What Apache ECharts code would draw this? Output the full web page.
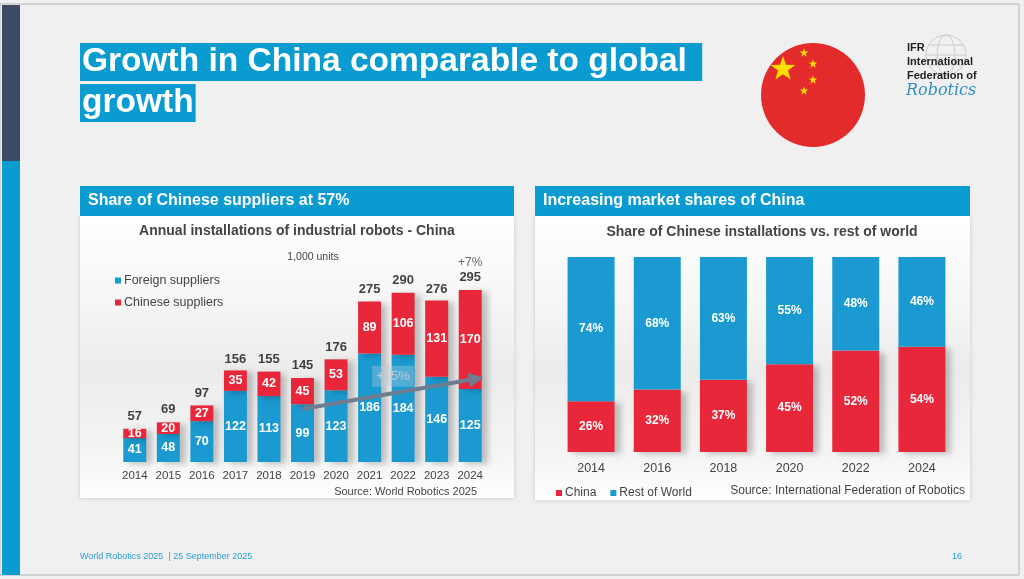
<!DOCTYPE html>
<html>
<head>
<meta charset="utf-8">
<script src="https://cdn.jsdelivr.net/npm/echarts@6/dist/echarts.min.js"></script>
<style>
  html, body { margin: 0; padding: 0; background: #f0f0f0; }
  #main { width: 1024px; height: 579px; }
</style>
</head>
<body>
<div id="main"></div>
<script>
// left chart: annual installations, 1,000 units
var years = ['2014', '2015', '2016', '2017', '2018', '2019', '2020', '2021', '2022', '2023', '2024'];
var foreign = [41, 48, 70, 122, 113, 99, 123, 186, 184, 146, 125];
var chinese = [16, 20, 27, 35, 42, 45, 53, 89, 106, 131, 170];
var totals = [57, 69, 97, 156, 155, 145, 176, 275, 290, 276, 295];
// trend arrow from 2019 to 2024 (value level, 1,000 units)
var trendFrom = ['2019', 91];
var trendTo = ['2024', 145];

// right chart: share of installations (%)
var shareYears = ['2014', '2016', '2018', '2020', '2022', '2024'];
var chinaShare = [26, 32, 37, 45, 52, 54];
var restShare = [74, 68, 63, 55, 48, 46];

var BLUE = '#1a9ad0';
var RED = '#e8283a';
var HEAD = '#0a9bd0';
var TXT = '#444';
var FONT = 'Liberation Sans, Arial, sans-serif';

function star(cx, cy, r) {
    var pts = [];
    for (var i = 0; i < 10; i++) {
        var a = -Math.PI / 2 + i * Math.PI / 5;
        var rr = i % 2 ? r * 0.4 : r;
        pts.push([cx + rr * Math.cos(a), cy + rr * Math.sin(a)]);
    }
    return pts;
}

// soft grey panel background like the original slide
function panelFill() {
    return new echarts.graphic.LinearGradient(0, 0, 0, 1, [
        { offset: 0, color: '#ffffff' },
        { offset: 0.3, color: '#f6f6f6' },
        { offset: 0.55, color: '#ececec' },
        { offset: 0.85, color: '#f5f5f5' },
        { offset: 1, color: '#ffffff' }
    ]);
}

var myChart = echarts.init(document.getElementById('main'));

var decor = [
    // slide frame
    { type: 'rect', shape: { x: 0, y: 4, width: 1019, height: 571 }, style: { fill: 'none', stroke: '#b5b5b5', lineWidth: 1 } },
    { type: 'rect', shape: { x: 2, y: 5, width: 18, height: 156 }, style: { fill: '#3d4a63' } },
    { type: 'rect', shape: { x: 2, y: 161, width: 18, height: 414 }, style: { fill: '#0a9bd0' } },
    // main title
    { type: 'text', left: 80, top: 43, style: { text: 'Growth in China comparable to global ', font: 'bold 33.5px ' + FONT, fill: '#fff', backgroundColor: HEAD, padding: [2, 6, 2, 2] } },
    { type: 'text', left: 80, top: 84, style: { text: 'growth', font: 'bold 33.5px ' + FONT, fill: '#fff', backgroundColor: HEAD, padding: [2, 2, 2, 2] } },
    // flag
    { type: 'circle', shape: { cx: 813, cy: 95, r: 52 }, style: { fill: '#e32b2b' } },
    { type: 'polygon', shape: { points: star(783, 69, 13) }, style: { fill: '#ffde00' } },
    { type: 'polygon', shape: { points: star(804, 53, 4.5) }, style: { fill: '#ffde00' } },
    { type: 'polygon', shape: { points: star(813, 64, 4.5) }, style: { fill: '#ffde00' } },
    { type: 'polygon', shape: { points: star(813, 80, 4.5) }, style: { fill: '#ffde00' } },
    { type: 'polygon', shape: { points: star(804, 91, 4.5) }, style: { fill: '#ffde00' } },
    // IFR logo
    { type: 'circle', shape: { cx: 946, cy: 55, r: 20 }, style: { fill: 'none', stroke: '#c8ccd2', lineWidth: 1 } },
    { type: 'ellipse', shape: { cx: 946, cy: 55, rx: 9, ry: 20 }, style: { fill: 'none', stroke: '#c8ccd2', lineWidth: 1 } },
    { type: 'line', shape: { x1: 926, y1: 55, x2: 966, y2: 55 }, style: { stroke: '#c8ccd2', lineWidth: 1 } },
    { type: 'line', shape: { x1: 929, y1: 45, x2: 963, y2: 45 }, style: { stroke: '#c8ccd2', lineWidth: 1 } },
    { type: 'line', shape: { x1: 929, y1: 65, x2: 963, y2: 65 }, style: { stroke: '#c8ccd2', lineWidth: 1 } },
    { type: 'text', left: 907, top: 41, style: { text: 'IFR\nInternational\nFederation of', font: 'bold 11px ' + FONT, fill: '#222', lineHeight: 14 } },
    { type: 'text', left: 906, top: 83, style: { text: 'Robotics', font: 'italic 16px DejaVu Serif', fill: '#2f8fc4' } },
    // panels
    { type: 'rect', shape: { x: 80, y: 216, width: 434, height: 282 }, style: { fill: panelFill(), shadowBlur: 4, shadowColor: 'rgba(0,0,0,0.18)' } },
    { type: 'rect', shape: { x: 535, y: 216, width: 435, height: 284 }, style: { fill: panelFill(), shadowBlur: 4, shadowColor: 'rgba(0,0,0,0.18)' } },
    { type: 'rect', shape: { x: 80, y: 186, width: 434, height: 30 }, style: { fill: HEAD } },
    { type: 'rect', shape: { x: 535, y: 186, width: 435, height: 30 }, style: { fill: HEAD } },
    { type: 'text', left: 88, top: 193, style: { text: 'Share of Chinese suppliers at 57%', font: 'bold 16px ' + FONT, fill: '#fff' } },
    { type: 'text', left: 543, top: 193, style: { text: 'Increasing market shares of China', font: 'bold 16px ' + FONT, fill: '#fff' } },
    // chart titles and notes
    { type: 'text', x: 297, y: 231, style: { text: 'Annual installations of industrial robots - China', font: 'bold 14px ' + FONT, fill: TXT, align: 'center', verticalAlign: 'middle' } },
    { type: 'text', x: 313, y: 257, style: { text: '1,000 units', font: '10.5px ' + FONT, fill: TXT, align: 'center', verticalAlign: 'middle' } },
    { type: 'text', x: 477, y: 492, style: { text: 'Source: World Robotics 2025', font: '11px ' + FONT, fill: TXT, align: 'right', verticalAlign: 'middle' } },
    { type: 'text', x: 762, y: 232, style: { text: 'Share of Chinese installations vs. rest of world', font: 'bold 14px ' + FONT, fill: TXT, align: 'center', verticalAlign: 'middle' } },
    { type: 'text', x: 965, y: 491, style: { text: 'Source: International Federation of Robotics', font: '12px ' + FONT, fill: TXT, align: 'right', verticalAlign: 'middle' } },
    // footer
    { type: 'text', left: 80, top: 552, style: { text: 'World Robotics 2025  | 25 September 2025', font: '9px ' + FONT, fill: '#2a9fd0' } },
    { type: 'text', left: 952, top: 552, style: { text: '16', font: '9px ' + FONT, fill: '#2a9fd0' } }
];

var barShadow = { shadowColor: 'rgba(0,0,0,0.22)', shadowBlur: 6, shadowOffsetX: 6, shadowOffsetY: 2 };

var option = {
    backgroundColor: '#f0f0f0',
    textStyle: { fontFamily: FONT },
    animation: false,
    graphic: decor,
    legend: [
        {
            orient: 'vertical', left: 110, top: 269, itemWidth: 6, itemHeight: 6, itemGap: 9, icon: 'rect',
            data: ['Foreign suppliers', 'Chinese suppliers'],
            textStyle: { color: TXT, fontSize: 12.5, padding: [0, 0, 0, -2] }
        },
        {
            orient: 'horizontal', left: 551, top: 482, itemWidth: 6, itemHeight: 6, itemGap: 14, icon: 'rect',
            data: ['China', 'Rest of World'],
            textStyle: { color: TXT, fontSize: 12, padding: [0, 0, 0, -2] }
        }
    ],
    grid: [
        { left: 118, right: 537, top: 287, bottom: 117 },
        { left: 558, right: 69, top: 257, bottom: 127 }
    ],
    xAxis: [
        {
            type: 'category', gridIndex: 0, data: years,
            axisLine: { show: false }, axisTick: { show: false },
            axisLabel: { color: TXT, fontSize: 11.5, margin: 8, interval: 0 }
        },
        {
            type: 'category', gridIndex: 1, data: shareYears,
            axisLine: { show: false }, axisTick: { show: false },
            axisLabel: { color: TXT, fontSize: 12.5, margin: 10, interval: 0 }
        }
    ],
    yAxis: [
        { type: 'value', gridIndex: 0, min: 0, max: 300, show: false },
        { type: 'value', gridIndex: 1, min: 0, max: 100, show: false }
    ],
    series: [
        {
            name: 'Foreign suppliers', type: 'bar', stack: 'left', xAxisIndex: 0, yAxisIndex: 0,
            data: foreign, barWidth: 23, itemStyle: Object.assign({ color: BLUE }, barShadow),
            label: { show: true, position: 'inside', color: '#fff', fontWeight: 'bold', fontSize: 12.5 }
        },
        {
            name: 'Chinese suppliers', type: 'bar', stack: 'left', xAxisIndex: 0, yAxisIndex: 0,
            data: chinese, barWidth: 23, itemStyle: Object.assign({ color: RED }, barShadow),
            label: { show: true, position: 'inside', color: '#fff', fontWeight: 'bold', fontSize: 12.5 }
        },
        {
            name: 'total', type: 'scatter', xAxisIndex: 0, yAxisIndex: 0, silent: true,
            data: totals, symbolSize: 1, itemStyle: { color: 'rgba(0,0,0,0)' },
            label: {
                show: true, position: 'top', distance: 4,
                formatter: function (p) {
                    return p.dataIndex === totals.length - 1 ? '{s|+7%}\n{b|' + p.value + '}' : '{b|' + p.value + '}';
                },
                rich: {
                    b: { color: '#111', fontWeight: 'bold', fontSize: 13, lineHeight: 15 },
                    s: { color: TXT, fontSize: 12, lineHeight: 15 }
                }
            }
        },
        {
            name: 'China', type: 'bar', stack: 'right', xAxisIndex: 1, yAxisIndex: 1,
            data: chinaShare, barWidth: 47, itemStyle: Object.assign({ color: RED }, barShadow),
            label: { show: true, position: 'inside', color: '#fff', fontWeight: 'bold', fontSize: 12, formatter: '{c}%' }
        },
        {
            name: 'Rest of World', type: 'bar', stack: 'right', xAxisIndex: 1, yAxisIndex: 1,
            data: restShare, barWidth: 47, itemStyle: { color: BLUE },
            label: { show: true, position: 'inside', color: '#fff', fontWeight: 'bold', fontSize: 12, formatter: '{c}%' }
        }
    ]
};

option && myChart.setOption(option);

// trend arrow: placed from the axis scale, runs past the 2024 bar centre by ~half a bar
var p1 = myChart.convertToPixel({ gridIndex: 0 }, trendFrom);
var p2 = myChart.convertToPixel({ gridIndex: 0 }, trendTo);
var step = myChart.convertToPixel({ gridIndex: 0 }, ['2024', 0])[0] - myChart.convertToPixel({ gridIndex: 0 }, ['2023', 0])[0];
var ex = p2[0] + step * 0.4, ey = p2[1];
var ang = Math.atan2(ey - p1[1], ex - p1[0]);
var hl = 15, hw = 7;
var bx = ex - hl * Math.cos(ang), by = ey - hl * Math.sin(ang);
var midX = (p1[0] + ex) / 2, midY = (p1[1] + ey) / 2;
myChart.setOption({
    graphic: decor.concat([
        { type: 'line', z: 20, shape: { x1: p1[0], y1: p1[1], x2: bx, y2: by }, style: { stroke: '#6e7e90', lineWidth: 4 } },
        { type: 'polygon', z: 20, shape: { points: [[ex, ey], [bx + hw * Math.sin(ang), by - hw * Math.cos(ang)], [bx - hw * Math.sin(ang), by + hw * Math.cos(ang)]] }, style: { fill: '#6e7e90' } },
        { type: 'text', z: 20, x: midX, y: midY - 17, style: { text: '+15%', font: '13px ' + FONT, fill: 'rgba(196,204,212,0.95)', align: 'center', verticalAlign: 'middle', backgroundColor: 'rgba(190,205,220,0.35)', padding: [4, 4] } }
    ])
}, { replaceMerge: ['graphic'] });
</script>
</body>
</html>
